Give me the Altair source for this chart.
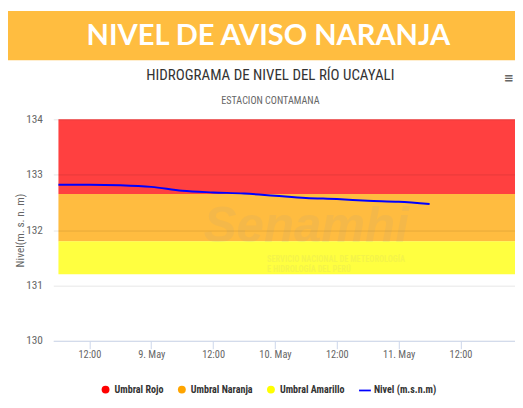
import altair as alt
import pandas as pd

# ---------------- data ----------------
times = [
    "2024-05-08T06:00:00", "2024-05-08T12:00:00", "2024-05-08T18:00:00",
    "2024-05-09T00:00:00", "2024-05-09T06:00:00", "2024-05-09T12:00:00",
    "2024-05-09T18:00:00", "2024-05-10T00:00:00", "2024-05-10T06:00:00",
    "2024-05-10T12:00:00", "2024-05-10T18:00:00", "2024-05-11T00:00:00",
    "2024-05-11T06:00:00",
]
levels = [132.82, 132.82, 132.81, 132.78, 132.71, 132.68, 132.66,
          132.62, 132.58, 132.56, 132.53, 132.51, 132.47]

band_names = ["Umbral Rojo", "Umbral Naranja", "Umbral Amarillo"]
band_low = [132.65, 131.8, 131.2]
band_high = [134.0, 132.65, 131.8]
band_start = "2024-05-08T06:00:00"
band_end = "2024-05-11T22:34:00"
band_colors = ["#FF0000", "#FFA500", "#FFFF00"]

series_names = band_names + ["Nivel (m.s.n.m)"]
series_colors = band_colors + ["#0000FF"]
series_shapes = ["circle", "circle", "circle", "M-1.5,-0.22H1.5V0.22H-1.5Z"]

x_domain = ["2024-05-08T05:00:00", "2024-05-11T22:34:00"]
x_ticks = [alt.DateTime(year=2024, month=5, date=d, hours=h)
           for d, h in [(8, 12), (9, 0), (9, 12), (10, 0), (10, 12), (11, 0), (11, 12)]]
y_ticks = [130, 131, 132, 133, 134]

banner_text = "NIVEL DE AVISO NARANJA"
chart_title = "HIDROGRAMA DE NIVEL DEL RÍO UCAYALI"
chart_subtitle = "ESTACION CONTAMANA"
y_title = "Nivel(m. s. n. m)"

FONT = "Liberation Sans Narrow, Roboto Condensed, Roboto"

line_df = pd.DataFrame({"time": times, "nivel": levels})
bands_df = pd.DataFrame({"serie": band_names, "low": band_low, "high": band_high,
                         "start": [band_start] * 3, "end": [band_end] * 3})
legend_df = pd.DataFrame({"serie": series_names})

xscale = alt.Scale(domain=x_domain)
yscale = alt.Scale(domain=[130, 134], nice=False, zero=False)
cscale = alt.Scale(domain=series_names, range=series_colors)
fscale = alt.Scale(domain=band_names, range=band_colors)

xaxis = alt.Axis(values=x_ticks, title=None, grid=False,
                 labelExpr="hours(datum.value) == 0 ? timeFormat(datum.value, '%-d. %b') : timeFormat(datum.value, '%H:%M')",
                 domainColor="#ccd6eb", tickColor="#ccd6eb", tickSize=8,
                 labelPadding=1, labelColor="#666666", labelFontSize=10.5,
                 labelFlush=False, labelOverlap=False, zindex=1)
yaxis = alt.Axis(values=y_ticks, title=y_title, titleFontSize=11.5, titleColor="#666666",
                 titleFontWeight="normal", titlePadding=0, labelColor="#666666",
                 labelFontSize=11.5, ticks=False, tickSize=0, domain=False,
                 labelPadding=11, gridColor="#000000", gridOpacity=0.1, zindex=1)

legend = alt.Legend(title=None, orient="none", direction="horizontal",
                    legendX=48, legendY=269, symbolSize=64, symbolOpacity=1,
                    labelFontSize=10.2, labelFontWeight="bold", labelColor="#333333",
                    labelOffset=4, columnPadding=11.5)

bands = alt.Chart(bands_df).mark_rect(opacity=0.75).encode(
    x=alt.X("start:T", scale=xscale, axis=xaxis),
    x2="end:T",
    y=alt.Y("low:Q", scale=yscale, axis=yaxis),
    y2="high:Q",
    fill=alt.Fill("serie:N", scale=fscale, legend=None),
)

line = alt.Chart(line_df).mark_line(color="#0000FF", strokeWidth=2, interpolate="monotone").encode(
    x=alt.X("time:T", scale=xscale, axis=xaxis),
    y=alt.Y("nivel:Q", scale=yscale, axis=yaxis),
)

# legend-only layer: no visible marks (filtered out), legend built from the scales
legend_layer = alt.Chart(legend_df).transform_filter("false").mark_point(filled=True, opacity=1).encode(
    color=alt.Color("serie:N", scale=cscale, legend=legend),
    shape=alt.Shape("serie:N", scale=alt.Scale(domain=series_names, range=series_shapes), legend=legend),
)

one = pd.DataFrame({"t": [0]})

banner = alt.Chart(one).mark_rect(color="#FFBD40").encode(
    x=alt.value(-46), x2=alt.value(469), y=alt.value(-110), y2=alt.value(-60))
banner_txt = alt.Chart(pd.DataFrame({"t": [banner_text]})).mark_text(
    color="white", font="Lato", fontWeight="bold", fontSize=29.5, align="center", baseline="middle"
).encode(text="t:N", x=alt.value(218.5), y=alt.value(-84))

title_txt = alt.Chart(pd.DataFrame({"t": [chart_title]})).mark_text(
    color="#333333", fontSize=15.2, align="center", baseline="middle"
).encode(text="t:N", x=alt.value(220.5), y=alt.value(-45))
sub_txt = alt.Chart(pd.DataFrame({"t": [chart_subtitle]})).mark_text(
    color="#666666", fontSize=10.3, align="center", baseline="middle"
).encode(text="t:N", x=alt.value(220.5), y=alt.value(-19))
menu_txt = alt.Chart(pd.DataFrame({"t": ["≡"]})).mark_text(
    color="#666666", font="DejaVu Sans", fontSize=12, fontWeight="bold", align="right", baseline="middle"
).encode(text="t:N", x=alt.value(468), y=alt.value(-42))

wm1 = alt.Chart(pd.DataFrame({"t": ["Senamhi"]})).mark_text(
    color="#999999", opacity=0.1, font="Liberation Sans", fontSize=50, fontWeight="bold",
    fontStyle="italic", align="center", baseline="alphabetic"
).encode(text="t:N", x=alt.value(257), y=alt.value(125))
wm2 = alt.Chart(pd.DataFrame({"t": ["SERVICIO NACIONAL DE METEOROLOGÍA"]})).mark_text(
    color="#999999", opacity=0.1, fontSize=8.5, fontWeight="bold", align="left", baseline="middle"
).encode(text="t:N", x=alt.value(217), y=alt.value(142))
wm3 = alt.Chart(pd.DataFrame({"t": ["E HIDROLOGÍA DEL PERÚ"]})).mark_text(
    color="#999999", opacity=0.1, fontSize=8.5, fontWeight="bold", align="left", baseline="middle"
).encode(text="t:N", x=alt.value(217), y=alt.value(152))

chart = alt.layer(
    bands, wm1, wm2, wm3, line, legend_layer, banner, banner_txt, title_txt, sub_txt, menu_txt
).properties(
    width=469, height=225,
    autosize=alt.AutoSizeParams(type="none"),
    padding={"left": 46, "top": 110, "right": 0, "bottom": 53},
    background="white",
).configure(font=FONT).configure_view(stroke=None).configure_legend(padding=0)

chart.save("out.html", embed_options={"renderer": "svg", "actions": False})
